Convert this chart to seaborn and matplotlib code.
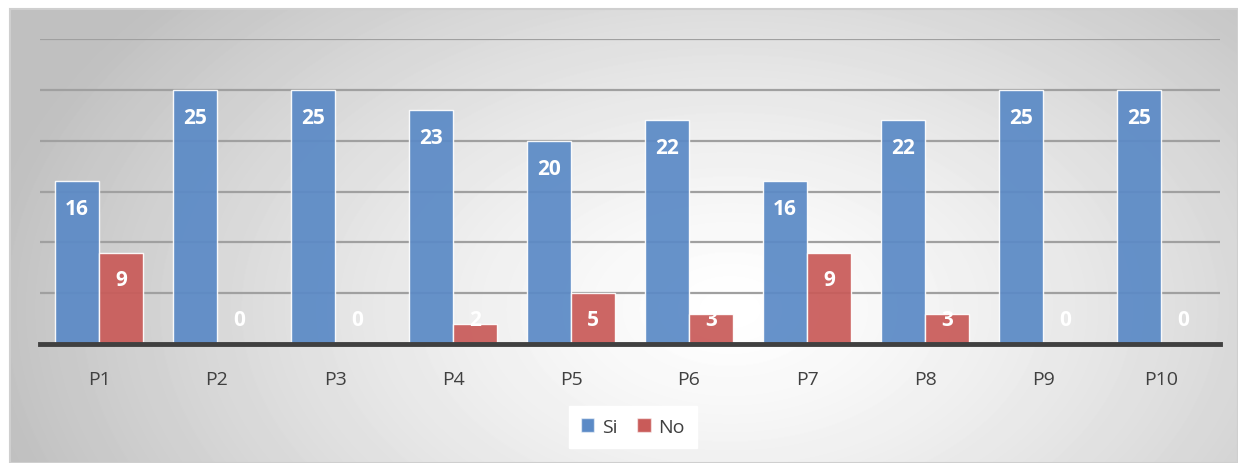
import numpy as np
import pandas as pd
import seaborn as sns
import matplotlib.pyplot as plt
from matplotlib.patches import Patch, Rectangle

preguntas = ["P1", "P2", "P3", "P4", "P5", "P6", "P7", "P8", "P9", "P10"]
si = [16, 25, 25, 23, 20, 22, 16, 22, 25, 25]
no = [9, 0, 0, 2, 5, 3, 9, 3, 0, 0]

df = pd.DataFrame({
    "pregunta": preguntas * 2,
    "valor": si + no,
    "resp": ["Si"] * len(si) + ["No"] * len(no),
})

sns.set_theme(style="white")
plt.rcParams["font.family"] = ["Open Sans", "DejaVu Sans"]

W, H = 1238, 464
fig = plt.figure(figsize=(W / 100, H / 100), dpi=100)
fig.patch.set_facecolor("white")

# radial grey-to-white background of the chart box
bg = fig.add_axes([10 / W, 0, (W - 10) / W, (H - 10) / H])
yy, xx = np.mgrid[0:454, 0:1228]
r = np.sqrt(((xx - 720) / 760) ** 2 + ((yy - 300) / 480) ** 2)
shade = 1 - 0.25 * np.clip(r, 0, 1) ** 1.3
bg.imshow(shade, cmap="gray", vmin=0, vmax=1, aspect="auto", interpolation="bilinear")
bg.set_axis_off()
fig.add_artist(Rectangle((10 / W, 0), (W - 10) / W, (H - 10) / H, transform=fig.transFigure,
                         fill=False, edgecolor="#cfcfcf", linewidth=1.5))

ax = fig.add_axes([40 / W, 119 / H, 1180 / W, 305 / H])
ax.set_facecolor("none")

colores = {"Si": "#5b8ac6", "No": "#c95b59"}
sns.barplot(data=df, x="pregunta", y="valor", hue="resp", palette=colores,
            width=0.746, saturation=1, alpha=0.93, edgecolor=(1, 1, 1, 0.55),
            linewidth=1, legend=False, ax=ax, zorder=3)

ax.set_ylim(0, 30)
ax.set_xlim(-0.5, len(preguntas) - 0.5)
ax.set_yticks([5, 10, 15, 20, 25, 30])
ax.yaxis.grid(True, color="#a0a0a0", linewidth=1.6, zorder=0)
ax.set_axisbelow(True)
ax.tick_params(axis="y", left=False, labelleft=False)
ax.tick_params(axis="x", bottom=False, labelsize=14, labelcolor="#404040", pad=13)
for s in ["top", "right", "left"]:
    ax.spines[s].set_visible(False)
ax.spines["bottom"].set_color("#404040")
ax.spines["bottom"].set_linewidth(3.5)
ax.spines["bottom"].set_zorder(5)
ax.set_xlabel("")
ax.set_ylabel("")

for cont in ax.containers:
    for p in cont:
        v = p.get_height()
        ax.text(p.get_x() + p.get_width() / 2, max(v - 2.7, 2.4), f"{v:.0f}",
                ha="center", va="center", color="white", fontsize=15,
                fontweight="bold", zorder=6)

handles = [Patch(facecolor=colores[k], edgecolor=(1, 1, 1, 0.55), label=k) for k in ["Si", "No"]]
leg = fig.legend(handles=handles, loc="center", bbox_to_anchor=(633 / W, 1 - 428 / H), ncol=2,
                 frameon=True, fancybox=False, facecolor="white", edgecolor="white",
                 framealpha=1, fontsize=14, handlelength=0.7, handleheight=0.7,
                 handletextpad=0.4, columnspacing=1.0, borderpad=0.6)
for t in leg.get_texts():
    t.set_color("#404040")

fig.savefig("out.png", dpi=100)
